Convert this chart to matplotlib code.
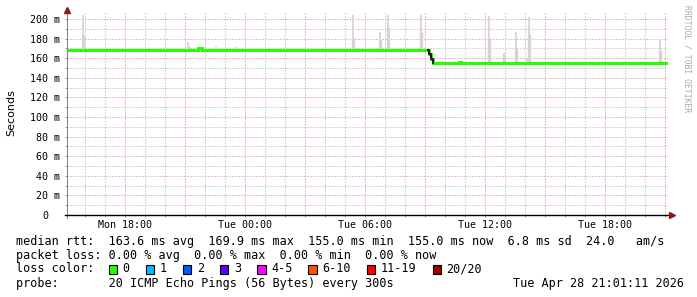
import numpy as np
import matplotlib
matplotlib.use("Agg")
import matplotlib.pyplot as plt
from matplotlib.patches import Rectangle

# ---------------- data ----------------
# hours relative to Mon 18:00
med_hours = [-2.9, 3.65, 3.85, 15.2, 15.3, 15.4, 16.7, 16.8, 27.15]
med_values = [168.5, 169.9, 168.5, 164.3, 159.0, 155.0, 156.3, 155.0, 155.0]
dark_hours = [15.15, 15.2, 15.3, 15.4]
dark_values = [168.5, 164.3, 159.0, 155.0]

smoke_hours = [-2.1, 3.15, 4.55, 5.55, 11.4, 12.75, 13.15, 14.8, 18.2, 18.95, 19.55, 20.1, 20.2, 26.75]
smoke_max = [204, 176.5, 171, 171, 204, 187, 204, 204, 203, 165, 187, 160, 202, 178.5]
smoke_mid = [184, 172, 170, 170, 181, 178.5, 192, 187, 180, 162, 170, 158, 185, 167]

x_tick_hours = [0, 6, 12, 18, 24]
x_tick_labels = ["Mon 18:00", "Tue 00:00", "Tue 06:00", "Tue 12:00", "Tue 18:00"]
y_tick_values = [0, 20, 40, 60, 80, 100, 120, 140, 160, 180, 200]
y_tick_labels = ["0", "20 m", "40 m", "60 m", "80 m", "100 m", "120 m", "140 m",
                 "160 m", "180 m", "200 m"]

loss_labels = ["0", "1", "2", "3", "4-5", "6-10", "11-19", "20/20"]
loss_colors = ["#26ff00", "#00b8ff", "#0059ff", "#5e00ff", "#ff00ff", "#ff5500", "#ff0000", "#a10000"]

line1 = "median rtt:  163.6 ms avg  169.9 ms max  155.0 ms min  155.0 ms now  6.8 ms sd  24.0   am/s"
line2 = "packet loss: 0.00 % avg  0.00 % max  0.00 % min  0.00 % now"
line3 = "loss color:"
line4 = "probe:       20 ICMP Echo Pings (56 Bytes) every 300s"
date_text = "Tue Apr 28 21:01:11 2026"
watermark = "RRDTOOL / TOBI OETIKER"

# ---------------- figure ----------------
W, H = 697, 297
fig = plt.figure(figsize=(W / 100, H / 100), dpi=100)
fig.patch.set_facecolor("white")
ax = fig.add_axes([67 / W, (H - 215) / H, 601 / W, 202 / H])
ax.set_xlim(-2.9, 27.15)
ax.set_ylim(0, 202 / 0.98)

mono = "DejaVu Sans Mono"

# grid
major_c = "#d88080"
minor_c = "#aaaaaa"
ax.set_xticks(np.arange(0, 28, 3))
ax.set_xticklabels([x_tick_labels[x_tick_hours.index(h)] if h in x_tick_hours else ""
                    for h in np.arange(0, 28, 3)], family=mono, fontsize=7.2)
ax.set_xticks(np.arange(-2, 28, 1), minor=True)
ax.set_yticks(y_tick_values)
ax.set_yticklabels(y_tick_labels, family=mono, fontsize=7.2)
ax.set_yticks(np.arange(10, 210, 10), minor=True)
ax.grid(which="major", color=major_c, linestyle=(0, (1, 2)), linewidth=0.72)
ax.grid(which="minor", color=minor_c, linestyle=(0, (1, 2)), linewidth=0.72)
ax.set_axisbelow(True)
ax.tick_params(which="both", length=1.5, width=0.7, color="#999999")
ax.tick_params(axis="x", which="both", pad=2.0)
ax.tick_params(axis="y", which="both", pad=3.6)
ax.yaxis.get_major_ticks()[0].set_pad(3.6 + 12 * 0.72)

for s in ax.spines.values():
    s.set_visible(False)

# smoke
base = []
for t in smoke_hours:
    i = np.searchsorted(med_hours, t, side="right") - 1
    base.append(med_values[i])
ax.vlines(smoke_hours, base, smoke_max, color="#d8d8d8", linewidth=1.4, zorder=2)
ax.vlines(smoke_hours, base, smoke_mid, color="#d4d4d4", linewidth=2.4, zorder=2)

# median line
ax.step(med_hours, med_values, where="post", color="#26ff00", linewidth=2.2,
        solid_joinstyle="miter", zorder=3)
ax.step(dark_hours, dark_values, where="post", color="#1e1e1e", linewidth=1.5, zorder=4)

# axes lines and arrows
ax.plot([0, 0], [-0.015, 1.02], transform=ax.transAxes, color="#8a8a8a",
        linewidth=0.8, clip_on=False, zorder=5)
ax.plot([-0.004, 1.0], [0, 0], transform=ax.transAxes, color="black",
        linewidth=1.0, clip_on=False, zorder=5)
ax.plot([0], [1.013], marker="^", markersize=3.8, color="#8b1a1a",
        transform=ax.transAxes, clip_on=False, zorder=6)
ax.plot([1.006], [0], marker=">", markersize=3.8, color="#8b1a1a",
        transform=ax.transAxes, clip_on=False, zorder=6)

# y label and watermark
fig.text(11 / W, 1 - 113 / H, "Seconds", rotation=90, ha="center", va="center",
         fontsize=8, family="DejaVu Sans")
fig.text(687 / W, 1 - 5 / H, watermark, rotation=270, ha="center", va="top",
         fontsize=5.8, family=mono, color="#aaaaaa")

# legend rows
fs = 8.5
cw = 7.13
fig.text(16 / W, 1 - 241 / H, line1, ha="left", va="center", fontsize=fs, family=mono)
fig.text(16 / W, 1 - 255 / H, line2, ha="left", va="center", fontsize=fs, family=mono)
fig.text(16 / W, 1 - 269 / H, line3, ha="left", va="center", fontsize=fs, family=mono)
fig.text(16 / W, 1 - 283 / H, line4, ha="left", va="center", fontsize=fs, family=mono)
fig.text(513 / W, 1 - 283 / H, date_text, ha="left", va="center", fontsize=fs, family=mono)

sq_x = 108.5
for lab, col in zip(loss_labels, loss_colors):
    fig.patches.append(Rectangle((sq_x / W, 1 - 273.5 / H), 8.5 / W, 8.5 / H,
                                 transform=fig.transFigure, facecolor=col,
                                 edgecolor="black", linewidth=0.8))
    lx = sq_x + 14
    fig.text(lx / W, 1 - 269 / H, lab, ha="left", va="center", fontsize=fs, family=mono)
    sq_x = lx + len(lab) * cw + 16

fig.savefig("out.png", dpi=100, facecolor="white")
